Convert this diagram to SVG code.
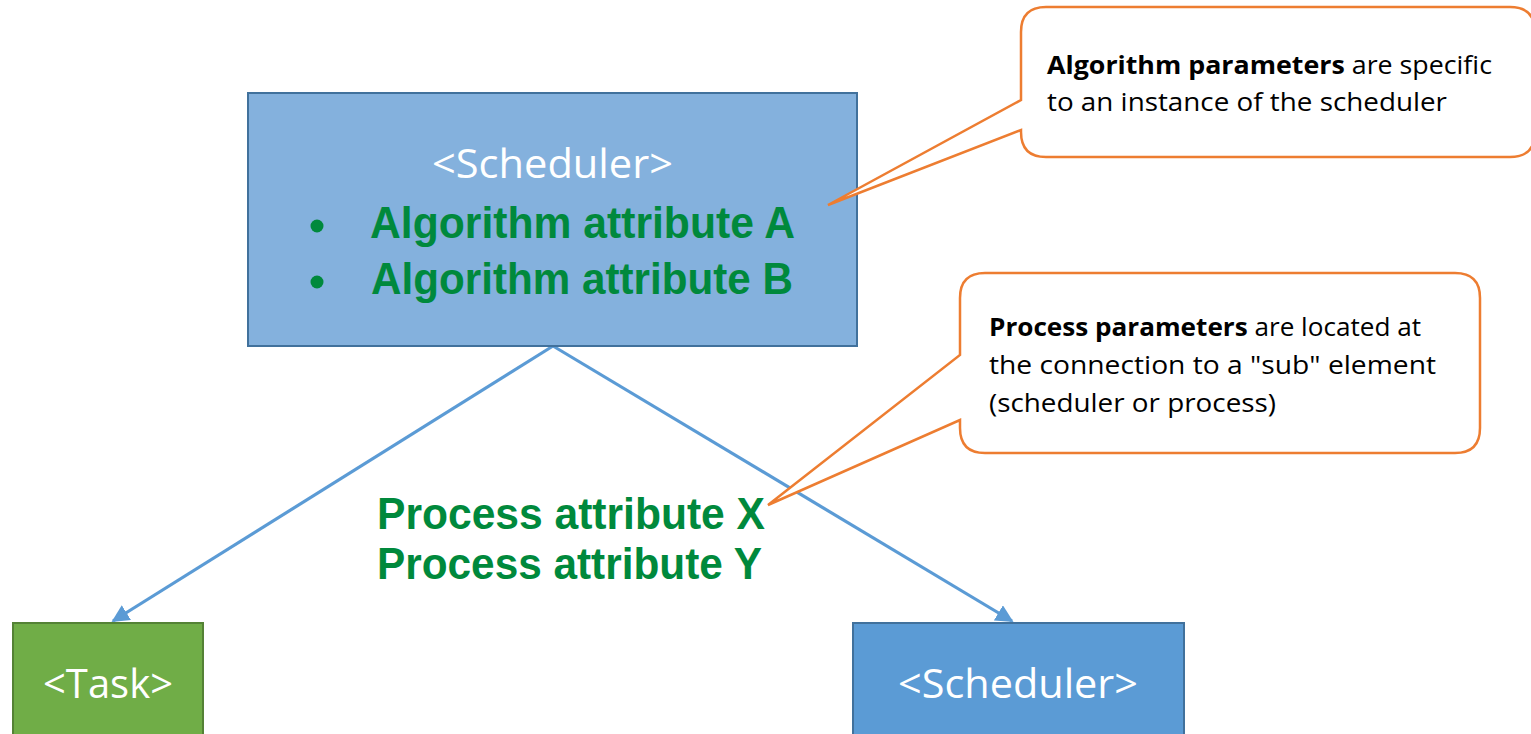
<svg xmlns="http://www.w3.org/2000/svg" width="1531" height="734" viewBox="0 0 1531 734">
<style>
.callout{fill:#fff;stroke:#ED7D31;stroke-width:2.5}
.conn{stroke:#5B9BD5;stroke-width:3.2;fill:none}
.white{fill:#fff;font-family:"Open Sans","Liberation Sans",sans-serif;font-size:40px}
.green{fill:#00893C;font-family:"Liberation Sans",Arial,sans-serif;font-weight:bold;font-size:44px}
.note{fill:#000;font-family:"Open Sans","Liberation Sans",sans-serif;font-size:25px}
</style>
<defs>
<marker id="arr" viewBox="0 0 10 10" refX="9" refY="5" markerWidth="5.5" markerHeight="5.5" orient="auto" markerUnits="strokeWidth">
<path d="M0,0 L10,5 L0,10 z" fill="#5B9BD5"/>
</marker>
</defs>
<g id="connectors">
<line class="conn" x1="553" y1="346" x2="113" y2="621" marker-end="url(#arr)"/>
<line class="conn" x1="553" y1="346" x2="1012" y2="621" marker-end="url(#arr)"/>
</g>
<g id="scheduler-top">
<rect x="248" y="93" width="609" height="253" fill="#84B1DD" stroke="#41719C" stroke-width="2"/>
<text class="white" x="432" y="178" textLength="241" lengthAdjust="spacingAndGlyphs">&lt;Scheduler&gt;</text>
<circle cx="317" cy="226" r="6.5" fill="#00893C"/>
<circle cx="317" cy="282" r="6.5" fill="#00893C"/>
<text class="green" x="370" y="238" textLength="425" lengthAdjust="spacingAndGlyphs">Algorithm attribute A</text>
<text class="green" x="371" y="294" textLength="422" lengthAdjust="spacingAndGlyphs">Algorithm attribute B</text>
</g>
<g id="task">
<rect x="13" y="623" width="190" height="120" fill="#70AD47" stroke="#548235" stroke-width="2"/>
<text class="white" x="43" y="698" textLength="130" lengthAdjust="spacingAndGlyphs">&lt;Task&gt;</text>
</g>
<g id="scheduler-bottom">
<rect x="853" y="623" width="331" height="120" fill="#5B9BD5" stroke="#41719C" stroke-width="2"/>
<text class="white" x="898" y="698" textLength="240" lengthAdjust="spacingAndGlyphs">&lt;Scheduler&gt;</text>
</g>
<g id="process-attributes">
<text class="green" x="377" y="529" textLength="388" lengthAdjust="spacingAndGlyphs">Process attribute X</text>
<text class="green" x="377" y="579" textLength="385" lengthAdjust="spacingAndGlyphs">Process attribute Y</text>
</g>
<g id="callout-algorithm">
<path class="callout" d="M1046,7 H1510 Q1535,7 1535,32 V132 Q1535,157 1510,157 H1046 Q1021,157 1021,132 V130 L828,205 L1021,100 V32 Q1021,7 1046,7 Z"/>
<text class="note" x="1047" y="74" textLength="445" lengthAdjust="spacingAndGlyphs"><tspan font-weight="bold">Algorithm parameters</tspan> are specific</text>
<text class="note" x="1047" y="111" textLength="400" lengthAdjust="spacingAndGlyphs">to an instance of the scheduler</text>
</g>
<g id="callout-process">
<path class="callout" d="M985,273 H1455 Q1480,273 1480,298 V428 Q1480,453 1455,453 H985 Q960,453 960,428 V420 L768,505 L960,355 V298 Q960,273 985,273 Z"/>
<text class="note" x="989" y="336" textLength="432" lengthAdjust="spacingAndGlyphs"><tspan font-weight="bold">Process parameters</tspan> are located at</text>
<text class="note" x="989" y="374" textLength="447" lengthAdjust="spacingAndGlyphs">the connection to a "sub" element</text>
<text class="note" x="989" y="412" textLength="287" lengthAdjust="spacingAndGlyphs">(scheduler or process)</text>
</g>
</svg>
